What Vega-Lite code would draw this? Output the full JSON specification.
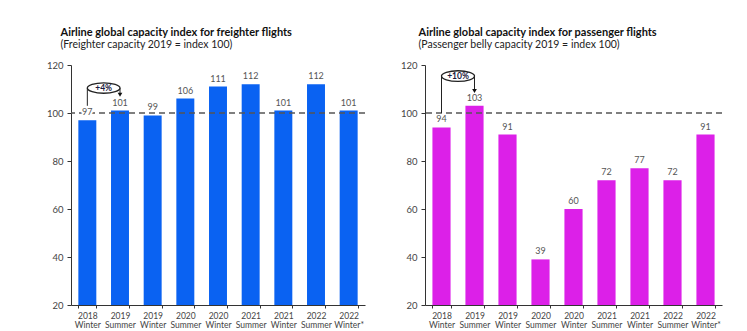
{
  "$schema": "https://vega.github.io/schema/vega-lite/v6.json",
  "background": "white",
  "padding": {"left": 46, "top": 26, "right": 5, "bottom": 3},
  "spacing": 34,
  "datasets": {
    "freighter": [
      {"period": "2018 Winter", "value": 97},
      {"period": "2019 Summer", "value": 101},
      {"period": "2019 Winter", "value": 99},
      {"period": "2020 Summer", "value": 106},
      {"period": "2020 Winter", "value": 111},
      {"period": "2021 Summer", "value": 112},
      {"period": "2021 Winter", "value": 101},
      {"period": "2022 Summer", "value": 112},
      {"period": "2022 Winter*", "value": 101}
    ],
    "passenger": [
      {"period": "2018 Winter", "value": 94},
      {"period": "2019 Summer", "value": 103},
      {"period": "2019 Winter", "value": 91},
      {"period": "2020 Summer", "value": 39},
      {"period": "2020 Winter", "value": 60},
      {"period": "2021 Summer", "value": 72},
      {"period": "2021 Winter", "value": 77},
      {"period": "2022 Summer", "value": 72},
      {"period": "2022 Winter*", "value": 91}
    ],
    "reference": [{"index": 100}],
    "fr_bracket": [
      {"period": "2018 Winter", "y1": 103, "y2": 110.4},
      {"period": "2019 Summer", "y1": 110.4, "y2": 107.5}
    ],
    "fr_arrow": [{"period": "2019 Summer", "y": 107.6}],
    "fr_badge": [{"period": "2018 Winter", "y": 110.4, "label": "+4%"}],
    "pa_bracket": [
      {"period": "2018 Winter", "y1": 100, "y2": 115.4},
      {"period": "2019 Summer", "y1": 115.4, "y2": 109.2}
    ],
    "pa_arrow": [{"period": "2019 Summer", "y": 109.2}],
    "pa_badge": [{"period": "2018 Winter", "y": 115.4, "label": "+10%"}]
  },
  "config": {
    "view": {"stroke": null},
    "font": "Lato",
    "axis": {
      "labelColor": "#444",
      "domainColor": "#333",
      "tickColor": "#333",
      "grid": false,
      "title": null,
      "labelFontSize": 9.5
    },
    "title": {
      "anchor": "start",
      "frame": "group",
      "font": "Lato",
      "fontSize": 11,
      "fontWeight": "bold",
      "color": "#111",
      "subtitleFont": "Lato",
      "subtitleFontSize": 10.5,
      "subtitleColor": "#222",
      "subtitlePadding": 2,
      "offset": 10
    }
  },
  "hconcat": [
    {
      "width": 294,
      "height": 240,
      "title": {
        "text": "Airline global capacity index for freighter flights",
        "subtitle": "(Freighter capacity 2019 = index 100)",
        "dx": -10.5
      },
      "layer": [
        {
          "data": {"name": "freighter"},
          "mark": {"type": "bar", "color": "#0a62f2"},
          "encoding": {
            "x": {
              "field": "period", "type": "ordinal", "sort": null,
              "scale": {
                "domain": ["2018 Winter", "2019 Summer", "2019 Winter", "2020 Summer", "2020 Winter", "2021 Summer", "2021 Winter", "2022 Summer", "2022 Winter*"],
                "paddingInner": 0.45, "paddingOuter": 0.225
              },
              "axis": {
                "labelAngle": 0, "labelExpr": "split(datum.label, ' ')",
                "tickBand": "extent", "tickSize": 3, "labelFontSize": 8.5,
                "labelLineHeight": 9, "labelPadding": 3
              }
            },
            "y": {
              "field": "value", "type": "quantitative",
              "scale": {"domain": [20, 120], "nice": false, "zero": false},
              "axis": {"values": [20, 40, 60, 80, 100, 120], "tickSize": 4, "labelPadding": 4}
            },
            "y2": {"datum": 20}
          }
        },
        {
          "data": {"name": "reference"},
          "mark": {"type": "rule", "strokeDash": [6, 4], "color": "#555", "strokeWidth": 1.5},
          "encoding": {"y": {"field": "index", "type": "quantitative"}}
        },
        {
          "data": {"name": "freighter"},
          "mark": {"type": "text", "baseline": "bottom", "dy": -3, "fontSize": 9, "color": "white", "stroke": "white", "strokeWidth": 4},
          "encoding": {
            "x": {"field": "period", "type": "ordinal", "sort": null},
            "y": {"field": "value", "type": "quantitative"},
            "text": {"field": "value", "type": "quantitative"}
          }
        },
        {
          "data": {"name": "freighter"},
          "mark": {"type": "text", "baseline": "bottom", "dy": -3, "fontSize": 9, "color": "#555"},
          "encoding": {
            "x": {"field": "period", "type": "ordinal", "sort": null},
            "y": {"field": "value", "type": "quantitative"},
            "text": {"field": "value", "type": "quantitative"}
          }
        },
        {
          "data": {"name": "fr_bracket"},
          "mark": {"type": "rule", "color": "#222", "strokeWidth": 1},
          "encoding": {
            "x": {"field": "period", "type": "ordinal", "sort": null},
            "y": {"field": "y1", "type": "quantitative"},
            "y2": {"field": "y2"}
          }
        },
        {
          "data": {"name": "fr_arrow"},
          "mark": {"type": "point", "shape": "triangle-down", "filled": true, "color": "#111", "size": 22, "opacity": 1},
          "encoding": {
            "x": {"field": "period", "type": "ordinal", "sort": null},
            "y": {"field": "y", "type": "quantitative"}
          }
        },
        {
          "data": {"name": "fr_badge"},
          "mark": {"type": "point", "shape": "M0,0 C0,-0.1767 0.4477,-0.32 1,-0.32 C1.5523,-0.32 2,-0.1767 2,0 C2,0.1767 1.5523,0.32 1,0.32 C0.4477,0.32 0,0.1767 0,0 Z", "filled": true, "fill": "white", "stroke": "#222", "strokeWidth": 1.3, "size": 1067, "opacity": 1},
          "encoding": {
            "x": {"field": "period", "type": "ordinal", "sort": null},
            "y": {"field": "y", "type": "quantitative"}
          }
        },
        {
          "data": {"name": "fr_badge"},
          "mark": {"type": "text", "dx": 16.3, "fontSize": 8.5, "fontWeight": "bold", "color": "#1a1a40", "baseline": "middle", "align": "center"},
          "encoding": {
            "x": {"field": "period", "type": "ordinal", "sort": null},
            "y": {"field": "y", "type": "quantitative"},
            "text": {"field": "label"}
          }
        }
      ]
    },
    {
      "width": 297,
      "height": 240,
      "title": {
        "text": "Airline global capacity index for passenger flights",
        "subtitle": "(Passenger belly capacity 2019 = index 100)",
        "dx": -6.5
      },
      "layer": [
        {
          "data": {"name": "passenger"},
          "mark": {"type": "bar", "color": "#dc20e8"},
          "encoding": {
            "x": {
              "field": "period", "type": "ordinal", "sort": null,
              "scale": {
                "domain": ["2018 Winter", "2019 Summer", "2019 Winter", "2020 Summer", "2020 Winter", "2021 Summer", "2021 Winter", "2022 Summer", "2022 Winter*"],
                "paddingInner": 0.45, "paddingOuter": 0.225
              },
              "axis": {
                "labelAngle": 0, "labelExpr": "split(datum.label, ' ')",
                "tickBand": "extent", "tickSize": 3, "labelFontSize": 8.5,
                "labelLineHeight": 9, "labelPadding": 3
              }
            },
            "y": {
              "field": "value", "type": "quantitative",
              "scale": {"domain": [20, 120], "nice": false, "zero": false},
              "axis": {"values": [20, 40, 60, 80, 100, 120], "tickSize": 4, "labelPadding": 4}
            },
            "y2": {"datum": 20}
          }
        },
        {
          "data": {"name": "reference"},
          "mark": {"type": "rule", "strokeDash": [6, 4], "color": "#555", "strokeWidth": 1.5},
          "encoding": {"y": {"field": "index", "type": "quantitative"}}
        },
        {
          "data": {"name": "passenger"},
          "mark": {"type": "text", "baseline": "bottom", "dy": -3, "fontSize": 9, "color": "#555"},
          "encoding": {
            "x": {"field": "period", "type": "ordinal", "sort": null},
            "y": {"field": "value", "type": "quantitative"},
            "text": {"field": "value", "type": "quantitative"}
          }
        },
        {
          "data": {"name": "pa_bracket"},
          "mark": {"type": "rule", "color": "#222", "strokeWidth": 1},
          "encoding": {
            "x": {"field": "period", "type": "ordinal", "sort": null},
            "y": {"field": "y1", "type": "quantitative"},
            "y2": {"field": "y2"}
          }
        },
        {
          "data": {"name": "pa_arrow"},
          "mark": {"type": "point", "shape": "triangle-down", "filled": true, "color": "#111", "size": 22, "opacity": 1},
          "encoding": {
            "x": {"field": "period", "type": "ordinal", "sort": null},
            "y": {"field": "y", "type": "quantitative"}
          }
        },
        {
          "data": {"name": "pa_badge"},
          "mark": {"type": "point", "shape": "M0,0 C0,-0.1767 0.4477,-0.32 1,-0.32 C1.5523,-0.32 2,-0.1767 2,0 C2,0.1767 1.5523,0.32 1,0.32 C0.4477,0.32 0,0.1767 0,0 Z", "filled": true, "fill": "white", "stroke": "#222", "strokeWidth": 1.3, "size": 1089, "opacity": 1},
          "encoding": {
            "x": {"field": "period", "type": "ordinal", "sort": null},
            "y": {"field": "y", "type": "quantitative"}
          }
        },
        {
          "data": {"name": "pa_badge"},
          "mark": {"type": "text", "dx": 16.5, "fontSize": 8.5, "fontWeight": "bold", "color": "#1a1a40", "baseline": "middle", "align": "center"},
          "encoding": {
            "x": {"field": "period", "type": "ordinal", "sort": null},
            "y": {"field": "y", "type": "quantitative"},
            "text": {"field": "label"}
          }
        }
      ]
    }
  ]
}
